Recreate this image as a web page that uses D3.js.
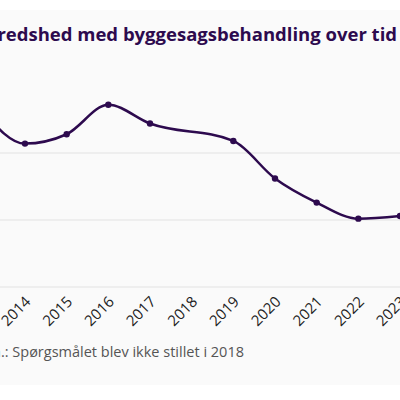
<!DOCTYPE html>
<html>
<head>
<meta charset="utf-8">
<script src="https://cdn.jsdelivr.net/npm/d3@7"></script>
<style>
  body { margin: 0; background: #fff; }
  svg { display: block; font-family: "Open Sans", Lato, sans-serif; }
</style>
</head>
<body>
<div id="chart"></div>
<script>
// years with data (2018 was not asked)
const years = [2013, 2014, 2015, 2016, 2017, 2019, 2020, 2021, 2022, 2023]
const values = [3.81, 3.57, 3.64, 3.86, 3.72, 3.59, 3.31, 3.13, 3.01, 3.03]
const tickYears = [2013, 2014, 2015, 2016, 2017, 2018, 2019, 2020, 2021, 2022, 2023]
const gridValues = [2.5, 3.0, 3.5]
const title = 'Tilfredshed med byggesagsbehandling over tid'
const note = 'Anm.: Spørgsmålet blev ikke stillet i 2018'

const color = '#2d0a4e'
const svg = d3.select('#chart').append('svg').attr('width', 400).attr('height', 400)

svg.append('rect').attr('x', 0).attr('y', 10).attr('width', 400).attr('height', 375).attr('fill', '#fafafa')

const x = d3.scaleLinear().domain([2013, 2024]).range([-16.7, 441.7])
const y = d3.scaleLinear().domain([2.5, 4]).range([287, 86])

svg.append('g').selectAll('line').data(gridValues).join('line')
    .attr('x1', 0).attr('x2', 400)
    .attr('y1', d => y(d)).attr('y2', d => y(d))
    .attr('stroke', '#e2e2e2').attr('stroke-width', 1)

svg.append('g').selectAll('text').data(tickYears).join('text')
    .attr('transform', d => `translate(${x(d) + 3},${299}) rotate(-45)`)
    .attr('text-anchor', 'end').attr('dy', '0.35em')
    .attr('font-size', 15).attr('fill', '#222')
    .text(d => d)

const line = d3.line().x((d, i) => x(years[i])).y(d => y(d)).curve(d3.curveMonotoneX)
svg.append('path').datum(values).attr('d', line)
    .attr('fill', 'none').attr('stroke', color).attr('stroke-width', 2.5)

svg.append('g').selectAll('circle').data(values).join('circle')
    .attr('cx', (d, i) => x(years[i])).attr('cy', d => y(d)).attr('r', 3.2)
    .attr('fill', color)

svg.append('text').attr('x', 397).attr('y', 41).attr('text-anchor', 'end')
    .attr('font-size', 18.5).attr('font-weight', 'bold').attr('fill', color).text(title)

svg.append('text').attr('x', 244).attr('y', 357).attr('text-anchor', 'end')
    .attr('font-size', 14.5).attr('fill', '#555').text(note)
</script>
</body>
</html>
